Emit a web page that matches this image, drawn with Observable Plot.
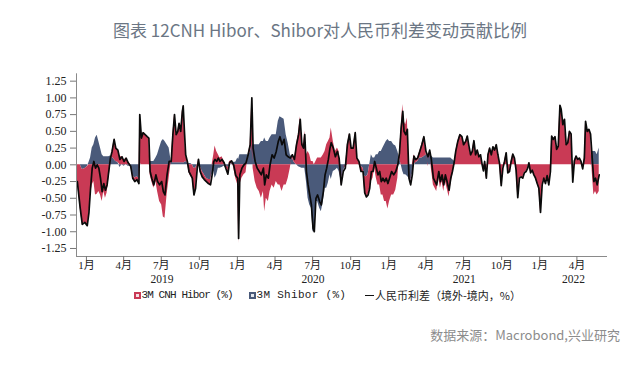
<!DOCTYPE html>
<html><head><meta charset="utf-8">
<script src="https://cdn.jsdelivr.net/npm/d3@7"></script>
<script src="https://cdn.jsdelivr.net/npm/@observablehq/plot@0.6"></script>
<style>
body{margin:0;background:#fff;}
#wrap{position:relative;width:640px;height:373px;overflow:hidden;font-family:"Noto Sans CJK SC",sans-serif;background:#fff;}
#title{position:absolute;left:0;top:18px;width:640px;text-align:center;font-size:17px;line-height:24px;color:#6b7684;}
#chart{position:absolute;left:0;top:58px;}
.lg{position:absolute;top:288px;font-size:11px;line-height:14px;color:#222;white-space:nowrap;}
.mono{font-family:"Liberation Mono","DejaVu Sans Mono",monospace;}
.sw{position:absolute;top:291.5px;width:7px;height:7px;box-sizing:border-box;border:2px solid;}
#src{position:absolute;right:20px;top:326px;font-size:13px;line-height:18px;color:#8c8c8c;}
</style></head>
<body><div id="wrap">
<div id="title">图表 12CNH Hibor、Shibor对人民币利差变动贡献比例</div>
<div id="chart"></div>
<div class="sw" style="left:134px;border-color:#c93a55;background:#f7e1e5"></div>
<div class="lg mono" style="left:141.5px;letter-spacing:-0.9px">3M CNH Hibor (%)</div>
<div class="sw" style="left:249px;border-color:#4a5a7a;background:#e3e7ee"></div>
<div class="lg mono" style="left:256.5px;letter-spacing:0.3px">3M Shibor (%)</div>
<div style="position:absolute;left:365px;top:294.5px;width:9px;height:1.5px;background:#111"></div>
<div class="lg" style="left:375px">人民币利差（境外-境内，%）</div>
<div id="src">数据来源：Macrobond,兴业研究</div>
</div>
<script>
const seriesNames = ["3M CNH Hibor (%)", "3M Shibor (%)", "人民币利差（境外-境内，%）"];
const monthSuffix = "月";
const dates = [
"2018-12-10","2018-12-17","2018-12-22","2018-12-28","2019-01-03","2019-01-07","2019-01-11","2019-01-15","2019-01-19","2019-01-23",
"2019-01-27","2019-01-31","2019-02-04","2019-02-08","2019-02-12","2019-02-16","2019-02-20","2019-02-24","2019-02-28","2019-03-04",
"2019-03-09","2019-03-13","2019-03-18","2019-03-23","2019-03-28","2019-04-02","2019-04-07","2019-04-12","2019-04-18","2019-04-23",
"2019-04-28","2019-05-03","2019-05-08","2019-05-10","2019-05-14","2019-05-18","2019-05-23","2019-05-28","2019-06-01","2019-06-04",
"2019-06-08","2019-06-13","2019-06-18","2019-06-22","2019-06-27","2019-07-02","2019-07-06","2019-07-10","2019-07-15","2019-07-20",
"2019-07-25","2019-07-29","2019-08-02","2019-08-06","2019-08-10","2019-08-13","2019-08-17","2019-08-21","2019-08-23","2019-08-26",
"2019-08-29","2019-09-02","2019-09-06","2019-09-10","2019-09-14","2019-09-18","2019-09-22","2019-09-26","2019-09-29","2019-10-03",
"2019-10-08","2019-10-13","2019-10-18","2019-10-23","2019-10-28","2019-11-01","2019-11-05","2019-11-08","2019-11-12","2019-11-16",
"2019-11-20","2019-11-25","2019-11-30","2019-12-04","2019-12-09","2019-12-13","2019-12-18","2019-12-23","2019-12-28","2020-01-02",
"2020-01-04","2020-01-07","2020-01-12","2020-01-17","2020-01-22","2020-01-27","2020-02-01","2020-02-05","2020-02-08","2020-02-13",
"2020-02-18","2020-02-23","2020-02-28","2020-03-04","2020-03-07","2020-03-11","2020-03-16","2020-03-20","2020-03-25","2020-03-30",
"2020-04-04","2020-04-09","2020-04-13","2020-04-18","2020-04-23","2020-04-28","2020-05-03","2020-05-08","2020-05-13","2020-05-18",
"2020-05-23","2020-05-28","2020-06-01","2020-06-05","2020-06-09","2020-06-12","2020-06-16","2020-06-20","2020-06-24","2020-06-28",
"2020-07-02","2020-07-05","2020-07-09","2020-07-13","2020-07-18","2020-07-22","2020-07-27","2020-07-31","2020-08-04","2020-08-08",
"2020-08-12","2020-08-15","2020-08-20","2020-08-25","2020-08-30","2020-09-03","2020-09-08","2020-09-13","2020-09-18","2020-09-23",
"2020-09-28","2020-10-02","2020-10-07","2020-10-12","2020-10-16","2020-10-21","2020-10-26","2020-10-31","2020-11-04","2020-11-08",
"2020-11-12","2020-11-16","2020-11-20","2020-11-24","2020-11-28","2020-12-02","2020-12-06","2020-12-10","2020-12-14","2020-12-18",
"2020-12-22","2020-12-26","2020-12-30","2021-01-03","2021-01-08","2021-01-13","2021-01-18","2021-01-23","2021-01-27","2021-01-31",
"2021-02-04","2021-02-07","2021-02-11","2021-02-15","2021-02-19","2021-02-23","2021-02-27","2021-03-03","2021-03-07","2021-03-12",
"2021-03-17","2021-03-22","2021-03-27","2021-04-01","2021-04-06","2021-04-10","2021-04-14","2021-04-19","2021-04-23","2021-04-27",
"2021-05-02","2021-05-06","2021-05-10","2021-05-14","2021-05-18","2021-05-22","2021-05-27","2021-05-31","2021-06-04","2021-06-08",
"2021-06-12","2021-06-17","2021-06-22","2021-06-27","2021-07-01","2021-07-06","2021-07-10","2021-07-14","2021-07-18","2021-07-22",
"2021-07-26","2021-07-30","2021-08-03","2021-08-07","2021-08-11","2021-08-15","2021-08-18","2021-08-21","2021-08-25","2021-08-29",
"2021-09-02","2021-09-06","2021-09-10","2021-09-14","2021-09-18","2021-09-22","2021-09-26","2021-09-30","2021-10-04","2021-10-08",
"2021-10-12","2021-10-16","2021-10-20","2021-10-24","2021-10-28","2021-11-01","2021-11-05","2021-11-09","2021-11-13","2021-11-17",
"2021-11-21","2021-11-25","2021-11-29","2021-12-03","2021-12-06","2021-12-10","2021-12-14","2021-12-18","2021-12-22","2021-12-26",
"2021-12-30","2022-01-03","2022-01-07","2022-01-11","2022-01-15","2022-01-19","2022-01-23","2022-01-27","2022-01-30","2022-02-03",
"2022-02-07","2022-02-11","2022-02-15","2022-02-19","2022-02-22","2022-02-26","2022-03-02","2022-03-06","2022-03-10","2022-03-14",
"2022-03-18","2022-03-22","2022-03-26","2022-03-30","2022-04-03","2022-04-07","2022-04-11","2022-04-15","2022-04-19","2022-04-22",
"2022-04-26","2022-04-30","2022-05-04","2022-05-08","2022-05-12","2022-05-16","2022-05-20","2022-05-25"];
const spread = [
-0.25,-0.65,-0.89,-0.86,-0.91,-0.72,-0.35,-0.05,0.05,-0.05,
0.00,-0.05,-0.20,-0.40,-0.28,-0.38,-0.30,-0.10,0.10,0.20,
0.38,0.25,0.22,0.08,0.12,0.05,0.10,0.03,-0.02,-0.20,
-0.25,-0.22,-0.28,0.75,0.40,0.48,0.45,0.42,0.40,-0.10,
-0.20,-0.30,-0.15,-0.25,-0.30,-0.25,-0.40,-0.45,-0.15,0.05,
0.05,0.45,0.75,0.45,0.50,0.62,0.50,0.80,0.88,0.50,
0.15,0.05,-0.10,-0.15,-0.20,-0.45,-0.35,-0.05,0.08,-0.10,
-0.18,-0.22,-0.25,-0.28,-0.30,-0.15,0.05,0.08,0.05,0.10,
0.05,0.08,0.03,-0.05,-0.14,0.03,0.06,0.00,-0.16,-0.20,
-1.10,-0.15,-0.05,0.00,0.03,0.15,0.30,1.00,0.25,0.05,
-0.05,-0.10,-0.15,-0.05,-0.30,-0.15,-0.20,0.00,0.15,0.10,
0.20,0.35,0.42,0.30,0.38,0.15,0.12,0.10,0.15,0.08,
0.30,0.45,0.68,0.30,0.25,0.45,-0.10,-0.30,-0.45,-0.60,
-0.95,-1.00,-0.50,-0.45,-0.55,-0.60,-0.40,-0.15,-0.05,0.08,
0.25,0.33,0.25,0.12,0.20,0.10,-0.30,-0.10,-0.05,0.30,
0.46,0.25,0.25,0.48,0.10,0.05,-0.10,-0.10,-0.42,-0.48,
-0.45,-0.35,-0.10,-0.10,0.05,-0.05,-0.15,-0.10,-0.25,-0.20,
-0.25,-0.20,-0.28,-0.20,-0.10,-0.15,-0.10,0.00,0.18,0.55,
0.80,0.50,0.45,0.53,-0.20,-0.30,-0.15,0.13,0.08,0.10,
0.20,0.30,0.42,0.20,0.12,0.22,0.08,-0.20,-0.25,-0.30,
-0.10,-0.25,-0.15,-0.30,-0.15,-0.25,-0.38,-0.20,-0.10,0.03,
0.20,0.35,0.45,0.42,0.30,0.35,0.43,0.28,0.15,0.20,
0.36,0.15,0.22,0.12,0.15,0.00,-0.09,0.05,-0.20,0.15,
0.25,0.15,0.27,0.22,0.30,0.15,0.02,-0.31,-0.05,0.05,
0.18,-0.12,-0.10,0.05,0.16,0.10,-0.08,-0.49,-0.20,-0.18,
-0.20,-0.12,-0.10,-0.05,0.03,-0.12,-0.08,-0.15,-0.20,-0.28,
-0.35,-0.71,-0.30,-0.20,-0.28,-0.16,-0.30,-0.10,0.43,0.38,
0.42,0.23,0.28,0.89,0.83,0.60,0.68,0.30,0.33,0.50,
0.46,-0.26,0.06,0.13,0.08,0.10,0.05,-0.06,0.10,0.65,
0.50,0.53,0.46,0.10,-0.25,-0.20,-0.30,-0.15];
const hibor = [
-0.25,-0.65,-0.82,-0.80,-0.88,-0.75,-0.45,-0.30,-0.25,-0.45,
-0.44,-0.40,-0.45,-0.55,-0.40,-0.50,-0.42,-0.22,-0.03,0.08,
0.30,0.20,0.18,0.12,0.12,0.07,0.10,0.05,0.00,-0.05,
-0.05,-0.04,-0.08,0.72,0.40,0.48,0.45,0.42,0.40,-0.15,
-0.25,-0.35,-0.25,-0.40,-0.55,-0.60,-0.78,-0.80,-0.45,-0.20,
0.00,0.42,0.72,0.42,0.47,0.59,0.47,0.77,0.85,0.47,
0.10,0.02,-0.12,-0.17,-0.20,-0.40,-0.30,-0.05,0.08,-0.08,
-0.08,-0.07,-0.05,-0.06,-0.08,0.00,0.15,0.28,0.20,0.15,
0.10,0.12,0.05,0.00,-0.10,0.05,0.04,-0.04,-0.20,-0.30,
-1.18,-0.30,-0.20,-0.15,-0.12,0.00,0.12,0.70,-0.05,-0.25,
-0.35,-0.40,-0.50,-0.40,-0.70,-0.50,-0.55,-0.40,-0.30,-0.35,
-0.25,-0.30,-0.30,-0.40,-0.30,-0.30,-0.20,-0.05,0.05,0.05,
0.30,0.48,0.72,0.35,0.30,0.50,0.15,0.20,0.15,0.05,
0.05,0.00,0.05,0.10,0.10,0.10,0.15,0.20,0.30,0.35,
0.40,0.55,0.35,0.20,0.25,0.20,-0.05,0.00,-0.02,0.30,
0.46,0.25,0.25,0.48,0.10,0.05,-0.08,-0.05,-0.25,-0.30,
-0.30,-0.35,-0.25,-0.20,-0.05,-0.20,-0.30,-0.30,-0.45,-0.45,
-0.55,-0.55,-0.66,-0.55,-0.45,-0.45,-0.38,-0.20,0.08,0.55,
0.90,0.65,0.60,0.70,0.00,-0.05,0.00,0.15,0.05,0.05,
0.10,0.20,0.30,0.05,-0.03,0.07,-0.05,-0.30,-0.35,-0.40,
-0.20,-0.35,-0.25,-0.40,-0.25,-0.35,-0.48,-0.30,-0.18,-0.03,
0.20,0.35,0.45,0.42,0.30,0.35,0.43,0.28,0.15,0.20,
0.36,0.15,0.22,0.12,0.15,0.00,-0.09,0.05,-0.20,0.15,
0.25,0.15,0.27,0.22,0.30,0.15,0.02,-0.31,-0.05,0.05,
0.18,-0.12,-0.10,0.05,0.16,0.10,-0.08,-0.49,-0.20,-0.18,
-0.20,-0.12,-0.10,-0.05,0.03,-0.12,-0.08,-0.15,-0.20,-0.28,
-0.35,-0.71,-0.30,-0.20,-0.28,-0.16,-0.30,-0.10,0.43,0.38,
0.42,0.23,0.28,0.89,0.83,0.60,0.68,0.30,0.33,0.50,
0.46,-0.26,0.06,0.13,0.08,0.10,0.05,-0.06,0.10,0.65,
0.50,0.53,0.46,-0.10,-0.45,-0.40,-0.45,-0.40];
const shibor = [
0,0,-0.07,-0.06,-0.03,0.03,0.10,0.25,0.30,0.40,
0.44,0.35,0.25,0.15,0.12,0.12,0.12,0.12,0.13,0.12,
0.08,0.05,0.04,-0.04,0,-0.02,0,-0.02,-0.02,-0.15,
-0.20,-0.18,-0.20,0.03,0,0,0,0,0,0.05,
0.05,0.05,0.10,0.15,0.25,0.35,0.38,0.35,0.30,0.25,
0.05,0.03,0.03,0.03,0.03,0.03,0.03,0.03,0.03,0.03,
0.05,0.03,0.02,0.02,0,-0.05,-0.05,0,0,-0.02,
-0.10,-0.15,-0.20,-0.22,-0.22,-0.15,-0.10,-0.20,-0.15,-0.05,
-0.05,-0.04,-0.02,-0.05,-0.04,-0.02,0.02,0.04,0.04,0.10,
0.08,0.15,0.15,0.15,0.15,0.15,0.18,0.30,0.30,0.30,
0.30,0.30,0.35,0.35,0.40,0.35,0.35,0.40,0.45,0.45,
0.45,0.65,0.72,0.70,0.68,0.45,0.32,0.15,0.10,0.03,
0,-0.03,-0.04,-0.05,-0.05,-0.05,-0.25,-0.50,-0.60,-0.65,
-1.00,-1.00,-0.55,-0.55,-0.65,-0.70,-0.55,-0.35,-0.35,-0.27,
-0.15,-0.22,-0.10,-0.08,-0.05,-0.10,-0.25,-0.10,-0.03,0,
0,0,0,0,0,0,-0.02,-0.05,-0.17,-0.18,
-0.15,0,0.15,0.10,0.10,0.15,0.15,0.20,0.20,0.25,
0.30,0.35,0.38,0.35,0.35,0.30,0.28,0.20,0.10,0,
-0.10,-0.15,-0.15,-0.17,-0.20,-0.25,-0.15,-0.02,0.03,0.05,
0.10,0.10,0.12,0.15,0.15,0.15,0.13,0.10,0.10,0.10,
0.10,0.10,0.10,0.10,0.10,0.10,0.10,0.10,0.08,0.06,
0,0,0,0,0,0,0,0,0,0,
0,0,0,0,0,0,0,0,0,0,
0,0,0,0,0,0,0,0,0,0,
0,0,0,0,0,0,0,0,0,0,
0,0,0,0,0,0,0,0,0,0,
0,0,0,0,0,0,0,0,0,0,
0,0,0,0,0,0,0,0,0,0,
0,0,0,0,0,0,0,0,0,0,
0,0,0,0.20,0.20,0.20,0.15,0.25];
const yTicks = [-1.25,-1.00,-0.75,-0.50,-0.25,0,0.25,0.50,0.75,1.00,1.25];
const years = [2019, 2020, 2021, 2022];

const red = "#c93a55", blue = "#4a5a7a";
const n = Math.min(dates.length, spread.length, hibor.length, shibor.length);
const parse = d3.utcParse("%Y-%m-%d");
const areaRows = [];
const lineRows = [];
for (let i = 0; i < n; i++) {
  const date = parse(dates[i]);
  areaRows.push({date, key: seriesNames[1], v: shibor[i]});
  areaRows.push({date, key: seriesNames[0], v: hibor[i]});
  lineRows.push({date, v: spread[i]});
}
const x0 = parse("2018-12-08"), x1 = parse("2022-06-14");
const monthTicks = d3.utcMonth.every(3).range(parse("2019-01-01"), x1);
const yearRows = years.map(y => {
  const a = Math.max(Date.UTC(y,0,1), +x0), b = Math.min(Date.UTC(y+1,0,1), +x1);
  return {date: new Date((a+b)/2), label: String(y)};
});

const chart = Plot.plot({
  width: 640, height: 230,
  marginTop: 15.3, marginBottom: 32, marginLeft: 76, marginRight: 33,
  style: {fontFamily: "'Liberation Serif','Noto Sans CJK SC',serif", fontSize: "12px", color: "#222", background: "transparent"},
  x: {type: "utc", domain: [x0, x1]},
  y: {domain: [-1.37, 1.36]},
  color: {domain: [seriesNames[0], seriesNames[1]], range: [red, blue]},
  marks: [
    Plot.areaY(areaRows, {x: "date", y: "v", fill: "key", z: "key", order: [seriesNames[1], seriesNames[0]]}),
    Plot.lineY(lineRows, {x: "date", y: "v", stroke: "#0a0a0a", strokeWidth: 1.7}),
    Plot.ruleX([x0], {stroke: "#8a8a8a", strokeWidth: 1}),
    Plot.ruleY([-1.37], {stroke: "#8a8a8a", strokeWidth: 1}),
    Plot.axisY({ticks: yTicks, tickFormat: d => d.toFixed(2), tickSize: 6, tickPadding: 4, stroke: "#777", fill: "#222", label: null, fontSize: 12}),
    Plot.axisX({ticks: monthTicks, tickFormat: d => (d.getUTCMonth()+1) + monthSuffix, tickSize: 4, tickPadding: 1, stroke: "#777", fill: "#222", label: null, fontSize: 11}),
    Plot.text(yearRows, {x: "date", text: "label", frameAnchor: "bottom", dy: 26, fontSize: 11.5, fill: "#222"})
  ]
});
document.getElementById("chart").appendChild(chart);
</script>
</body></html>
